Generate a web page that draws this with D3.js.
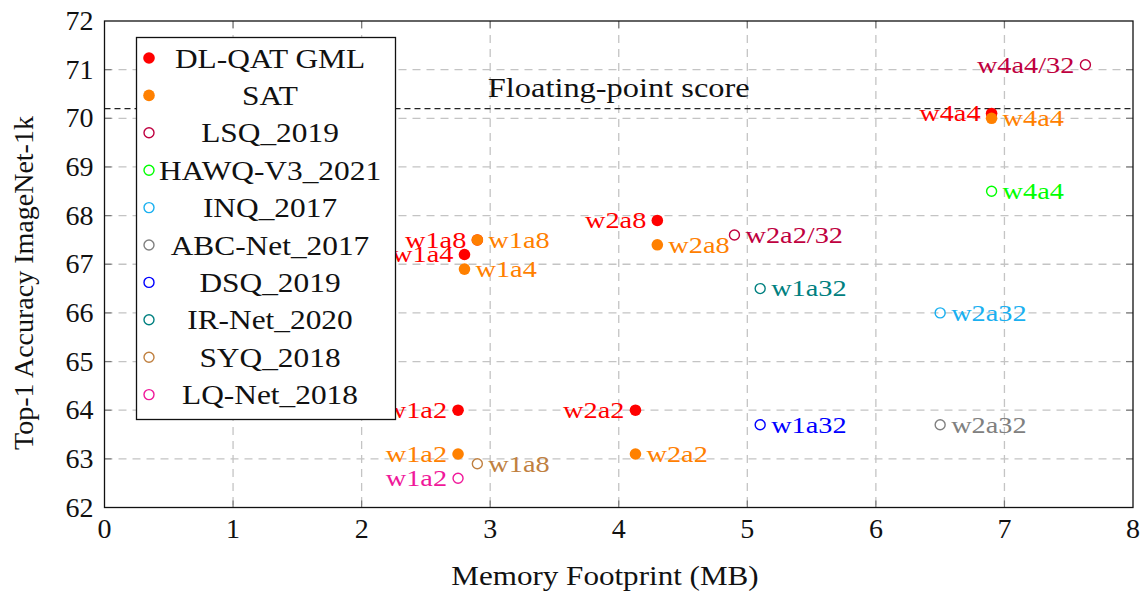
<!DOCTYPE html>
<html>
<head>
<meta charset="utf-8">
<script src="https://cdn.jsdelivr.net/npm/d3@7"></script>
<style>
  html, body { margin: 0; padding: 0; background: #fff; }
  svg { display: block; font-family: "Liberation Serif", "DejaVu Serif", serif; }
</style>
</head>
<body>
<svg id="chart" width="1148" height="592"></svg>
<script>
// Axis ticks
const xTicks = [0, 1, 2, 3, 4, 5, 6, 7, 8];
const yTicks = [62, 63, 64, 65, 66, 67, 68, 69, 70, 71, 72];

// Reference line
const floatingPointScore = 70.2;

// Series: [memory footprint (MB), top-1 accuracy, setting]
const dlqatGml = [[2.9, 67.5, "w1a8"], [6.9, 70.1, "w4a4"], [4.3, 67.9, "w2a8"], [2.8, 67.2, "w1a4"], [2.75, 64.0, "w1a2"], [4.13, 64.0, "w2a2"]];
const sat      = [[6.9, 70.0, "w4a4"], [4.3, 67.4, "w2a8"], [2.9, 67.5, "w1a8"], [2.8, 66.9, "w1a4"], [2.75, 63.1, "w1a2"], [4.13, 63.1, "w2a2"]];
const lsq      = [[7.63, 71.1, "w4a4/32"], [4.9, 67.6, "w2a2/32"]];
const hawq     = [[6.9, 68.5, "w4a4"]];
const inq      = [[6.5, 66.0, "w2a32"]];
const abcNet   = [[6.5, 63.7, "w2a32"]];
const dsq      = [[5.1, 63.7, "w1a32"]];
const irNet    = [[5.1, 66.5, "w1a32"]];
const syq      = [[2.9, 62.9, "w1a8"]];
const lqNet    = [[2.75, 62.6, "w1a2"]];

const seriesNames  = ["DL-QAT GML", "SAT", "LSQ_2019", "HAWQ-V3_2021", "INQ_2017", "ABC-Net_2017", "DSQ_2019", "IR-Net_2020", "SYQ_2018", "LQ-Net_2018"];
const seriesData   = [dlqatGml, sat, lsq, hawq, inq, abcNet, dsq, irNet, syq, lqNet];
const seriesColors = ["#ff0000", "#ff8000", "#bf0040", "#00ff00", "#1ab0f0", "#808080", "#0000ff", "#008080", "#c08040", "#f0189a"];
const seriesFilled = [true, true, false, false, false, false, false, false, false, false];
// which side of the marker each point's label sits on ("L" = left, "R" = right)
const labelSides   = [["L","L","L","L","L","L"], ["R","R","R","R","L","R"], ["L","R"], ["R"], ["R"], ["R"], ["R"], ["R"], ["R"], ["L"]];

const svg = d3.select("#chart");
const plot = { left: 104.5, right: 1133, top: 21, bottom: 507.5 };

const x = d3.scaleLinear().domain([0, 8]).range([plot.left, plot.right]);
const y = d3.scaleLinear().domain([62, 72]).range([plot.bottom, plot.top]);

// Stretch text horizontally to give the serif face a wider, book-like set
function widen(sel, factor) {
  sel.each(function () {
    const w = this.getComputedTextLength();
    if (w > 0) d3.select(this).attr("textLength", w * factor).attr("lengthAdjust", "spacingAndGlyphs");
  });
}

// Dashed grid
const grid = svg.append("g").attr("stroke", "#c4c4c4").attr("stroke-width", 1.3).attr("stroke-dasharray", "8,6");
grid.selectAll(".gx").data(xTicks.slice(1, -1)).join("line")
  .attr("x1", d => x(d)).attr("x2", d => x(d)).attr("y1", plot.top).attr("y2", plot.bottom);
grid.selectAll(".gy").data(yTicks.slice(1, -1)).join("line")
  .attr("x1", plot.left).attr("x2", plot.right).attr("y1", d => y(d)).attr("y2", d => y(d));

// Inner tick marks on all four sides
const tk = svg.append("g").attr("stroke", "#7a7a7a").attr("stroke-width", 1.2);
const tl = 7;
xTicks.slice(1, -1).forEach(t => {
  tk.append("line").attr("x1", x(t)).attr("x2", x(t)).attr("y1", plot.bottom).attr("y2", plot.bottom - tl);
  tk.append("line").attr("x1", x(t)).attr("x2", x(t)).attr("y1", plot.top).attr("y2", plot.top + tl);
});
yTicks.slice(1, -1).forEach(t => {
  tk.append("line").attr("x1", plot.left).attr("x2", plot.left + tl).attr("y1", y(t)).attr("y2", y(t));
  tk.append("line").attr("x1", plot.right).attr("x2", plot.right - tl).attr("y1", y(t)).attr("y2", y(t));
});

// Floating-point reference
svg.append("line")
  .attr("x1", x(0)).attr("x2", x(8))
  .attr("y1", y(floatingPointScore)).attr("y2", y(floatingPointScore))
  .attr("stroke", "#222").attr("stroke-width", 1.2).attr("stroke-dasharray", "6,4");
svg.append("text")
  .attr("x", x(4.0)).attr("y", y(floatingPointScore) - 12)
  .attr("text-anchor", "middle").attr("font-size", 27).attr("fill", "#111")
  .text("Floating-point score")
  .call(widen, 1.2);

// Points and their labels
const labelSize = 24;
seriesData.forEach((data, i) => {
  const g = svg.append("g");
  const c = seriesColors[i];
  g.selectAll("circle").data(data).join("circle")
    .attr("cx", d => x(d[0])).attr("cy", d => y(d[1]))
    .attr("r", seriesFilled[i] ? 5.8 : 5)
    .attr("fill", seriesFilled[i] ? c : "none")
    .attr("stroke", c).attr("stroke-width", seriesFilled[i] ? 0 : 1.4);
  g.selectAll("text").data(data).join("text")
    .attr("x", (d, j) => x(d[0]) + (labelSides[i][j] === "L" ? -11 : 11))
    .attr("y", d => y(d[1]) + labelSize * 0.33)
    .attr("text-anchor", (d, j) => labelSides[i][j] === "L" ? "end" : "start")
    .attr("font-size", labelSize).attr("fill", c)
    .text(d => d[2])
    .call(widen, 1.18);
});

// Frame
svg.append("rect")
  .attr("x", plot.left).attr("y", plot.top)
  .attr("width", plot.right - plot.left).attr("height", plot.bottom - plot.top)
  .attr("fill", "none").attr("stroke", "#111").attr("stroke-width", 1.3);

// Tick labels
svg.append("g").selectAll("text").data(xTicks).join("text")
  .attr("x", d => x(d)).attr("y", plot.bottom + 30)
  .attr("text-anchor", "middle").attr("font-size", 28).attr("fill", "#111")
  .text(d => d);
svg.append("g").selectAll("text").data(yTicks).join("text")
  .attr("x", plot.left - 11).attr("y", d => y(d) + 9)
  .attr("text-anchor", "end").attr("font-size", 28).attr("fill", "#111")
  .text(d => d);

// Axis titles
svg.append("text")
  .attr("x", 605).attr("y", 585)
  .attr("text-anchor", "middle").attr("font-size", 28).attr("fill", "#111")
  .text("Memory Footprint (MB)")
  .call(widen, 1.11);
svg.append("text")
  .attr("transform", `translate(33, 283) rotate(-90)`)
  .attr("text-anchor", "middle").attr("font-size", 28).attr("fill", "#111")
  .text("Top-1 Accuracy ImageNet-1k");

// Legend
const lg = svg.append("g");
const lgBox = { x: 136.5, y: 37.5, w: 259, h: 382 };
lg.append("rect")
  .attr("x", lgBox.x).attr("y", lgBox.y).attr("width", lgBox.w).attr("height", lgBox.h)
  .attr("fill", "#fff").attr("stroke", "#111").attr("stroke-width", 1.3);
const rowStep = 37.4;
seriesNames.forEach((name, i) => {
  const cy = 58 + i * rowStep;
  lg.append("circle")
    .attr("cx", 149).attr("cy", cy)
    .attr("r", seriesFilled[i] ? 5.8 : 5)
    .attr("fill", seriesFilled[i] ? seriesColors[i] : "none")
    .attr("stroke", seriesColors[i]).attr("stroke-width", seriesFilled[i] ? 0 : 1.4);
  lg.append("text")
    .attr("x", 270).attr("y", cy + 9.5)
    .attr("text-anchor", "middle").attr("font-size", 28).attr("fill", "#111")
    .text(name)
    .call(widen, 1.12);
});
</script>
</body>
</html>
